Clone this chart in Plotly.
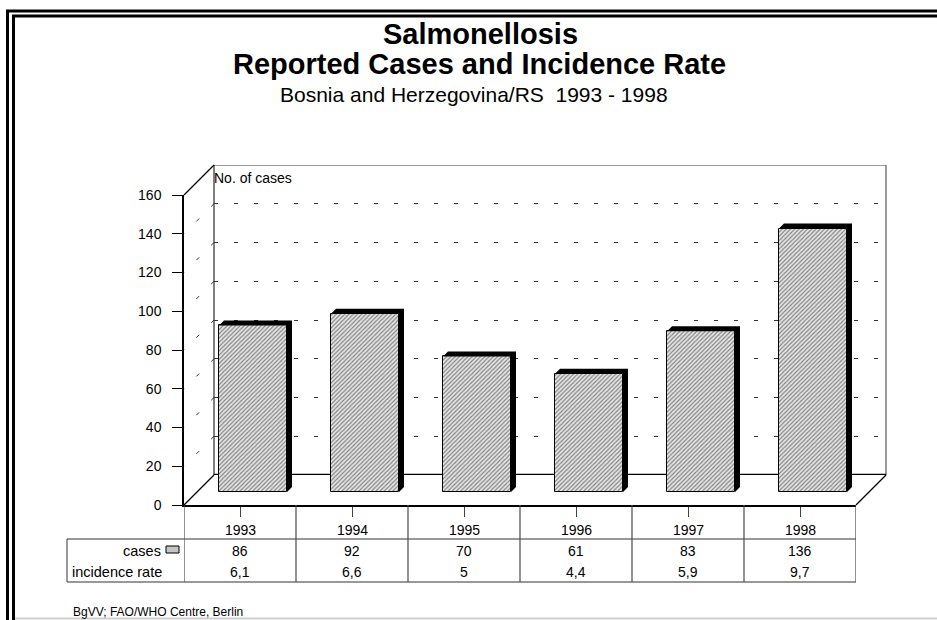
import plotly.graph_objects as go

# ---------------- data ----------------
years = [1993, 1994, 1995, 1996, 1997, 1998]
cases = [86, 92, 70, 61, 83, 136]
incidence = [6.1, 6.6, 5.0, 4.4, 5.9, 9.7]
y_ticks = [0, 20, 40, 60, 80, 100, 120, 140, 160]
title_1 = "Salmonellosis"
title_2 = "Reported Cases and Incidence Rate"
subtitle = "Bosnia and Herzegovina/RS  1993 - 1998"
y_title = "No. of cases"
row_labels = ["cases", "incidence rate"]
source = "BgVV; FAO/WHO Centre, Berlin"

# ---------------- geometry (pixels) ----------------
W, H = 937, 620
FONT = "Liberation Sans, Arial, sans-serif"


def px(x):
    return x / W


def py(y):
    return 1 - y / H


FX0, FX1 = 184, 856      # front floor edge (x)
FY0, FY1 = 505, 195      # front axis: value 0 and value YMAX (y)
DEPTH = 30               # depth of the back wall
BAR_DEPTH = 13           # depth of bar front faces
EXT = 5                  # bar extrusion depth
YMAX = y_ticks[-1]
CAT_PX = (FX1 - FX0) / len(years)
PX_PER_UNIT = (FY0 - FY1) / YMAX
BAR_W = 68 / CAT_PX
XR = [years[0] - 0.5, years[-1] + 0.5]

fig = go.Figure()

# dummy traces so that every subplot exists
fig.add_trace(go.Scatter(x=[None], y=[None], xaxis="x", yaxis="y",
                         showlegend=False, hoverinfo="skip"))
fig.add_trace(go.Scatter(x=[None], y=[None], xaxis="x3", yaxis="y3",
                         showlegend=False, hoverinfo="skip"))

# bars (front faces)
fig.add_trace(go.Bar(
    x=years, y=cases, xaxis="x2", yaxis="y2", width=BAR_W,
    marker=dict(color="#e6e6e6", line=dict(color="black", width=1),
                pattern=dict(shape="/", fgcolor="#808080", bgcolor="#e6e6e6",
                             size=3, solidity=0.38)),
    showlegend=False, hoverinfo="skip",
))

shapes = []
# ---- back wall ----
shapes.append(dict(type="line", xref="x domain", yref="y", x0=0, x1=1, y0=YMAX, y1=YMAX,
                   line=dict(color="#7a7a7a", width=1.5), layer="below"))
shapes.append(dict(type="line", xref="x domain", yref="y", x0=1, x1=1, y0=0, y1=YMAX,
                   line=dict(color="#7a7a7a", width=1.5), layer="below"))
shapes.append(dict(type="line", xref="x domain", yref="y", x0=0, x1=0, y0=0, y1=YMAX,
                   line=dict(color="black", width=1), layer="below"))
shapes.append(dict(type="line", xref="x domain", yref="y", x0=0, x1=1, y0=0, y1=0,
                   line=dict(color="black", width=2.5), layer="below"))
# ---- side wall / floor diagonals ----
for (x0, y0) in [(FX0, FY1), (FX0, FY0), (FX1, FY0)]:
    shapes.append(dict(type="line", xref="paper", yref="paper",
                       x0=px(x0), y0=py(y0), x1=px(x0 + DEPTH), y1=py(y0 - DEPTH),
                       line=dict(color="black", width=1.2), layer="below"))
# side-wall grid dashes
for t in y_ticks[1:-1]:
    yf = FY0 - t * PX_PER_UNIT
    shapes.append(dict(type="line", xref="paper", yref="paper",
                       x0=px(FX0 + DEPTH), y0=py(yf - DEPTH), x1=px(FX0), y1=py(yf),
                       line=dict(color="#333333", width=1, dash="4px,17px"), layer="below"))

# ---- bar extrusions (right side + top) ----
dx = EXT / CAT_PX
dy = EXT / PX_PER_UNIT
for yr, v in zip(years, cases):
    xl, xr = yr - BAR_W / 2, yr + BAR_W / 2
    path = (f"M {xl},{v} L {xl + dx},{v + dy} L {xr + dx},{v + dy} "
            f"L {xr + dx},{dy} L {xr},0 L {xr},{v} Z")
    shapes.append(dict(type="path", xref="x2", yref="y2", path=path,
                       fillcolor="black", line=dict(width=0), layer="above"))

# ---- data table ----
T_TOP, T_MID, T_BOT, T_LEFT = 505, 539, 582, 67
tab_line = dict(color="#333333", width=1)
for yline in (T_MID, T_BOT):
    shapes.append(dict(type="line", xref="paper", yref="paper",
                       x0=px(T_LEFT), x1=px(FX1), y0=py(yline), y1=py(yline), line=tab_line))
shapes.append(dict(type="line", xref="paper", yref="paper",
                   x0=px(T_LEFT), x1=px(T_LEFT), y0=py(T_MID), y1=py(T_BOT), line=tab_line))
for b in [yr - 0.5 for yr in years] + [years[-1] + 0.5]:
    shapes.append(dict(type="line", xref="x3", yref="paper",
                       x0=b, x1=b, y0=py(T_TOP), y1=py(T_BOT),
                       line=dict(color="#4a4a4a", width=1.2)))
# legend key in the table
shapes.append(dict(type="rect", xref="paper", yref="paper",
                   x0=px(166), x1=px(179), y0=py(553), y1=py(546),
                   fillcolor="#c4c4c4", line=dict(color="black", width=1)))

# ---- double frame ----
frame = dict(color="black", width=3)
shapes.append(dict(type="line", xref="paper", yref="paper", x0=px(7.5), x1=px(7.5),
                   y0=py(10), y1=py(H), line=frame))
shapes.append(dict(type="line", xref="paper", yref="paper", x0=px(6), x1=1,
                   y0=py(11), y1=py(11), line=frame))
shapes.append(dict(type="line", xref="paper", yref="paper", x0=px(13.5), x1=px(13.5),
                   y0=py(15), y1=py(H), line=frame))
shapes.append(dict(type="line", xref="paper", yref="paper", x0=px(12), x1=1,
                   y0=py(16), y1=py(16), line=frame))
shapes.append(dict(type="line", xref="paper", yref="paper", x0=px(15), x1=1,
                   y0=py(618.5), y1=py(618.5), line=dict(color="#cfcfcf", width=2)))

# ---------------- annotations ----------------
ann = []


def text(t, x, y, size, bold=False, xanchor="center", xref="paper"):
    ann.append(dict(text=f"<b>{t}</b>" if bold else t, x=x, y=py(y), xref=xref,
                    yref="paper", xanchor=xanchor, yanchor="middle", showarrow=False,
                    font=dict(family=FONT, size=size, color="black")))


text(title_1, px(480), 34, 29, bold=True)
text(title_2, px(479), 64, 29, bold=True)
text(subtitle, px(474), 95, 21)
text(y_title, px(212), 178, 14, xanchor="left")
for yr, c, inc in zip(years, cases, incidence):
    text(str(yr), yr, 530, 14, xref="x3")
    text(str(c), yr, 551, 14, xref="x3")
    text(f"{inc:g}".replace(".", ","), yr, 572, 14, xref="x3")
text(row_labels[0], px(163), 551, 14.5, xanchor="right")
text(row_labels[1], px(164), 572, 14.5, xanchor="right")
text(source, px(71), 612, 12, xanchor="left")

# ---------------- layout ----------------
hidden = dict(visible=False, fixedrange=True, automargin=False)
fig.update_layout(
    template="none",
    width=W, height=H, autosize=False,
    margin=dict(l=0, r=0, t=0, b=0, pad=0, autoexpand=False),
    paper_bgcolor="white", plot_bgcolor="rgba(0,0,0,0)",
    font=dict(family=FONT, color="black"),
    showlegend=False, bargap=0,
    # back wall
    xaxis=dict(domain=[px(FX0 + DEPTH), px(FX1 + DEPTH)], range=XR, anchor="y",
               showgrid=False, zeroline=False, showticklabels=False, ticks="",
               showline=False, fixedrange=True, automargin=False),
    yaxis=dict(domain=[py(FY0 - DEPTH), py(FY1 - DEPTH)], range=[0, YMAX], anchor="x",
               tickvals=y_ticks[1:], showgrid=True, gridcolor="#333333", gridwidth=1,
               griddash="4px,16px", zeroline=False, showticklabels=False, ticks="",
               showline=False, fixedrange=True, automargin=False),
    # bars
    xaxis2=dict(domain=[px(FX0 + BAR_DEPTH), px(FX1 + BAR_DEPTH)], range=XR,
                anchor="y2", **hidden),
    yaxis2=dict(domain=[py(FY0 - BAR_DEPTH), py(FY1 - BAR_DEPTH)], range=[0, YMAX],
                anchor="x2", **hidden),
    # front axes
    xaxis3=dict(domain=[px(FX0), px(FX1)], range=XR, anchor="y3",
                tickvals=years, ticks="outside", ticklen=10, tickwidth=1.2,
                tickcolor="#444444", showticklabels=False, showgrid=False,
                zeroline=False, showline=True, linecolor="black", linewidth=2,
                fixedrange=True, automargin=False),
    yaxis3=dict(domain=[py(FY0), py(FY1)], range=[0, YMAX], anchor="x3",
                tickvals=y_ticks, ticks="outside", ticklen=10, tickwidth=1.2,
                tickcolor="black", showgrid=False, zeroline=False, showline=True,
                linecolor="black", linewidth=1.5, ticklabelstandoff=8,
                tickfont=dict(family=FONT, size=14, color="black"), fixedrange=True,
                automargin=False),
    shapes=shapes,
    annotations=ann,
)

fig.write_html(
    "out.html",
    config={"displayModeBar": False, "responsive": False},
    post_script="document.body.style.margin='0';document.body.style.padding='0';"
                "document.body.style.overflow='hidden';"
                "document.documentElement.style.overflow='hidden';",
)
